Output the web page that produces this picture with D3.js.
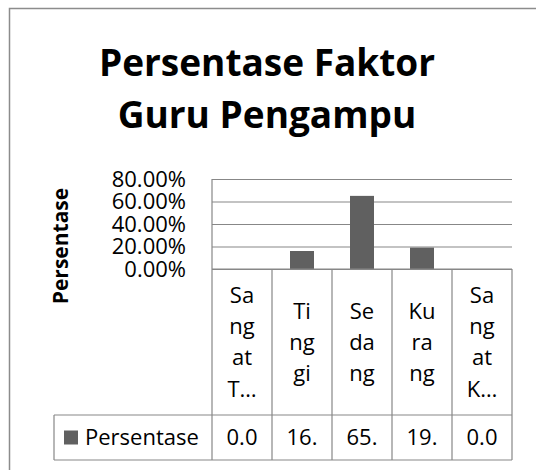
<!DOCTYPE html>
<html>
<head>
<meta charset="utf-8">
<script src="https://cdn.jsdelivr.net/npm/d3@7"></script>
<style>
  body { margin: 0; background: #fff; }
  svg { display: block; font-family: "Open Sans", sans-serif; }
</style>
</head>
<body>
<script>
// data
const categories = ["Sangat Tinggi", "Tinggi", "Sedang", "Kurang", "Sangat Kurang"];
const persentase = [0.0, 0.16, 0.65, 0.19, 0.0];
const yTicks = [0, 0.2, 0.4, 0.6, 0.8];
const seriesName = "Persentase";
const titleLines = ["Persentase Faktor", "Guru Pengampu"];
const yTitle = "Persentase";

var width = 536, height = 470;
var plot = {left: 212, right: 512, top: 179, bottom: 269};
var catRowBottom = 415, valRowBottom = 460, legendLeft = 54;
var lineCol = "#878787", barCol = "#606060";
var fs = 22;

const svg = d3.select('body')
    .append("svg")
        .attr("width", width)
        .attr("height", height)

// chart border (runs off the right and bottom of the picture)
svg.append('rect')
    .attr('x', 9.5).attr('y', 8.5)
    .attr('width', 700).attr('height', 700)
    .attr('fill', '#fff')
    .attr('stroke', '#8c8c8c')
    .attr('stroke-width', 1.5)

// title
svg.append('text')
    .attr('text-anchor', 'middle')
    .attr('font-weight', 'bold')
    .attr('font-size', 37)
    .selectAll('tspan').data(titleLines).enter().append('tspan')
        .attr('x', 267)
        .attr('y', (d, i) => 76 + i * 52)
        .text(d => d)

const y = d3.scaleLinear()
    .domain([0, 0.8])
    .range([plot.bottom, plot.top]);

// cells of the data table
const xCell = d3.scaleBand()
    .domain(categories)
    .range([plot.left, plot.right]);

// bars sit in the middle 40% of each cell
const xBar = d3.scaleBand()
    .domain(categories)
    .range([plot.left, plot.right])
    .paddingInner(0.6)
    .paddingOuter(0.3);

// gridlines
const grid = svg.append('g')
    .attr('transform', `translate(${plot.left},0)`)
    .call(d3.axisRight(y).tickValues(yTicks).tickSize(plot.right - plot.left).tickFormat(''))
grid.select('.domain').remove()
grid.selectAll('line').attr('stroke', lineCol)

// y labels
const yAxis = svg.append('g')
    .attr('transform', `translate(${plot.left},0)`)
    .call(d3.axisLeft(y).tickValues(yTicks).tickSize(0).tickPadding(26).tickFormat(d3.format('.2%')))
yAxis.select('.domain').remove()
yAxis.selectAll('text')
    .attr('font-family', '"Open Sans", sans-serif')
    .attr('font-size', fs)
    .attr('fill', '#000')

// axis title
svg.append('text')
    .attr('transform', 'translate(68,246) rotate(-90)')
    .attr('text-anchor', 'middle')
    .attr('font-weight', 'bold')
    .attr('font-size', 21)
    .text(yTitle)

// bars
svg.append('g').selectAll('rect').data(persentase).enter().append('rect')
    .attr('x', (d, i) => xBar(categories[i]))
    .attr('y', d => y(d))
    .attr('width', xBar.bandwidth())
    .attr('height', d => y(0) - y(d))
    .attr('fill', barCol)

// table lines
const table = svg.append('g').attr('stroke', lineCol).attr('stroke-width', 1.2)
table.append('line').attr('x1', plot.left).attr('x2', plot.left).attr('y1', plot.top).attr('y2', valRowBottom)
table.selectAll('.vcell').data(categories).enter().append('line')
    .attr('x1', d => xCell(d) + xCell.bandwidth()).attr('x2', d => xCell(d) + xCell.bandwidth())
    .attr('y1', plot.bottom).attr('y2', valRowBottom)
table.append('line').attr('x1', plot.left).attr('x2', plot.right).attr('y1', plot.bottom).attr('y2', plot.bottom)
table.append('line').attr('x1', legendLeft).attr('x2', plot.right).attr('y1', catRowBottom).attr('y2', catRowBottom)
table.append('line').attr('x1', legendLeft).attr('x2', plot.right).attr('y1', valRowBottom).attr('y2', valRowBottom)
table.append('line').attr('x1', legendLeft).attr('x2', legendLeft).attr('y1', catRowBottom).attr('y2', valRowBottom)

// category labels: narrow cells wrap every two letters, at most 4 lines
function wrapLabel(label) {
    var chunks = [];
    label.split(' ').forEach(w => {
        for (var i = 0; i < w.length; i += 2) chunks.push(w.slice(i, i + 2));
    });
    if (chunks.length > 4) {
        chunks = chunks.slice(0, 4);
        chunks[3] = chunks[3][0] + '\u2026';
    }
    return chunks;
}

var lineH = 31.3, rowMid = (plot.bottom + catRowBottom) / 2, capHalf = 7.8;
const catText = svg.append('g').selectAll('text').data(categories).enter().append('text')
    .attr('text-anchor', 'middle')
    .attr('font-size', fs)
catText.selectAll('tspan').data(d => wrapLabel(d).map((t, i, a) => ({t: t, i: i, n: a.length, c: d})))
    .enter().append('tspan')
        .attr('x', d => xCell(d.c) + xCell.bandwidth() / 2)
        .attr('y', d => rowMid + (d.i - (d.n - 1) / 2) * lineH + capHalf)
        .text(d => d.t)

// value row, clipped like the narrow cells
var valMid = (catRowBottom + valRowBottom) / 2;
svg.append('g').selectAll('text').data(persentase).enter().append('text')
    .attr('x', (d, i) => xCell(categories[i]) + xCell.bandwidth() / 2)
    .attr('y', valMid + capHalf)
    .attr('text-anchor', 'middle')
    .attr('font-size', fs)
    .text(d => d3.format('.2%')(d).slice(0, 3))

// legend key in the table
svg.append('rect')
    .attr('x', 64).attr('y', valMid - 7)
    .attr('width', 14).attr('height', 14)
    .attr('fill', barCol)
svg.append('text')
    .attr('x', 85).attr('y', valMid + capHalf)
    .attr('font-size', fs)
    .text(seriesName)
</script>
</body>
</html>
